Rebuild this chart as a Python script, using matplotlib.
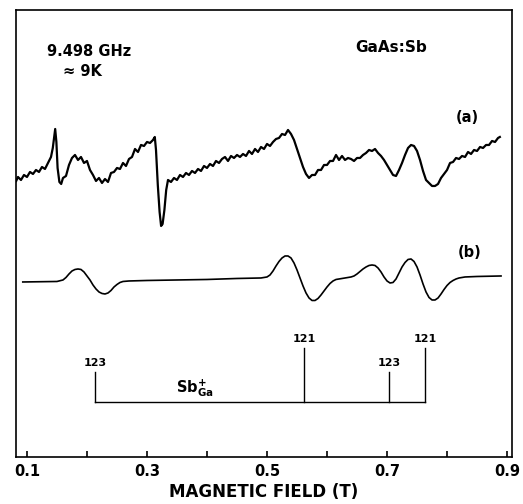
import numpy as np
import matplotlib
matplotlib.use("Agg")
import matplotlib.pyplot as plt

# trace (a): measured EPR derivative spectrum, field in T, signal in arb. units
field_a = [0.082, 0.085, 0.090, 0.095, 0.100, 0.105, 0.110, 0.115, 0.120, 0.125,
           0.130, 0.135, 0.140, 0.143, 0.147, 0.149, 0.151, 0.154, 0.157, 0.160,
           0.165, 0.170, 0.175, 0.180, 0.185, 0.190, 0.195, 0.200, 0.205, 0.210,
           0.215, 0.220, 0.225, 0.230, 0.235, 0.240, 0.245, 0.250, 0.255, 0.260,
           0.265, 0.270, 0.275, 0.280, 0.285, 0.290, 0.295, 0.300, 0.305, 0.310,
           0.313, 0.315, 0.318, 0.321, 0.3235, 0.326, 0.329, 0.332, 0.335, 0.340,
           0.345, 0.350, 0.355, 0.360, 0.365, 0.370, 0.375, 0.380, 0.385, 0.390,
           0.395, 0.400, 0.405, 0.410, 0.415, 0.420, 0.425, 0.430, 0.435, 0.440,
           0.445, 0.450, 0.455, 0.460, 0.465, 0.470, 0.475, 0.480, 0.485, 0.490,
           0.495, 0.500, 0.505, 0.510, 0.515, 0.520, 0.525, 0.530, 0.535, 0.540,
           0.545, 0.550, 0.555, 0.560, 0.565, 0.570, 0.575, 0.580, 0.585, 0.590,
           0.595, 0.600, 0.605, 0.610, 0.615, 0.620, 0.625, 0.630, 0.635, 0.640,
           0.645, 0.650, 0.655, 0.660, 0.665, 0.670, 0.675, 0.680, 0.685, 0.690,
           0.695, 0.700, 0.705, 0.710, 0.715, 0.720, 0.725, 0.730, 0.735, 0.740,
           0.745, 0.750, 0.755, 0.760, 0.765, 0.770, 0.775, 0.780, 0.785, 0.790,
           0.795, 0.800, 0.805, 0.810, 0.815, 0.820, 0.825, 0.830, 0.835, 0.840,
           0.845, 0.850, 0.855, 0.860, 0.865, 0.870, 0.875, 0.880, 0.885, 0.888]
signal_a = [276, 280, 277, 282, 280, 285, 283, 287, 285, 290,
            288, 294, 300, 309, 328, 315, 289, 275, 273, 279,
            281, 292, 299, 302, 297, 300, 294, 296, 287, 282,
            276, 279, 274, 278, 275, 284, 285, 289, 288, 294,
            291, 298, 300, 308, 305, 312, 311, 315, 314, 317,
            320, 307, 272, 245, 231, 233, 247, 267, 277, 275,
            279, 277, 282, 280, 284, 282, 286, 284, 288, 286,
            291, 289, 293, 291, 296, 294, 298, 300, 296, 301,
            299, 302, 300, 303, 301, 306, 303, 308, 305, 310,
            308, 313, 311, 315, 318, 319, 323, 322, 327, 323,
            317, 308, 299, 290, 283, 279, 282, 282, 287, 287,
            292, 292, 296, 296, 302, 297, 301, 297, 299, 298,
            296, 299, 299, 302, 304, 307, 306, 308, 304, 301,
            297, 292, 287, 282, 281, 287, 294, 302, 309, 312,
            311, 306, 297, 286, 277, 274, 271, 271, 273, 279,
            283, 287, 294, 295, 299, 298, 301, 300, 305, 303,
            307, 306, 310, 309, 312, 312, 316, 315, 319, 320]

# trace (b): simulated spectrum
field_b = [0.093, 0.150, 0.160, 0.165, 0.170, 0.175, 0.180, 0.185, 0.190, 0.195,
           0.200, 0.205, 0.210, 0.215, 0.220, 0.225, 0.230, 0.235, 0.240, 0.245,
           0.250, 0.255, 0.260, 0.270, 0.300, 0.400, 0.450, 0.490, 0.500, 0.505,
           0.510, 0.515, 0.520, 0.525, 0.530, 0.535, 0.540, 0.545, 0.550, 0.555,
           0.560, 0.565, 0.570, 0.575, 0.580, 0.585, 0.590, 0.595, 0.600, 0.605,
           0.610, 0.615, 0.620, 0.625, 0.630, 0.635, 0.640, 0.645, 0.650, 0.655,
           0.660, 0.665, 0.670, 0.675, 0.680, 0.685, 0.690, 0.695, 0.700, 0.705,
           0.710, 0.715, 0.720, 0.725, 0.730, 0.735, 0.740, 0.745, 0.750, 0.755,
           0.760, 0.765, 0.770, 0.775, 0.780, 0.785, 0.790, 0.795, 0.800, 0.805,
           0.810, 0.815, 0.820, 0.830, 0.850, 0.890]
signal_b = [175, 175.5, 177, 179.5, 183, 186, 187.5, 188, 187.5, 185,
            181, 177, 172, 168, 165, 163.5, 163, 164, 166.5, 170,
            172.5, 174.5, 175.5, 176, 176.5, 177.5, 178.5, 179, 180, 182,
            186, 191, 195.5, 199, 201, 201, 199, 194, 187, 179,
            171, 164, 159, 156.5, 156.5, 158.5, 162, 166, 170, 173.5,
            176, 177.5, 178, 178.5, 179, 179.5, 180, 181, 183, 185.5,
            188, 190, 191.5, 192, 191.5, 189, 185, 180, 176, 174,
            174.5, 178, 184, 190, 194.5, 197.5, 198, 195.5, 190, 182,
            173, 165, 159.5, 157, 157, 159, 163, 167.5, 171.5, 174.5,
            176.5, 178, 179, 180, 180.5, 181]

# Sb_Ga+ hyperfine stick diagram
stick_field = [0.213, 0.562, 0.703, 0.763]
stick_height = [30, 54, 30, 54]
stick_label = ["123", "121", "123", "121"]
stick_base = 55

fig = plt.figure(figsize=(5.23, 5.04), dpi=100)
ax = fig.add_axes([0.0306, 0.0933, 0.9484, 0.8869])

ax.plot(field_a, signal_a, color="black", lw=1.6)
ax.plot(field_b, signal_b, color="black", lw=1.2)

ax.plot([stick_field[0], stick_field[-1]], [stick_base, stick_base], color="black", lw=1.0)
for f, h, lab in zip(stick_field, stick_height, stick_label):
    ax.plot([f, f], [stick_base, stick_base + h], color="black", lw=1.0)
    ax.text(f, stick_base + h + 4, lab, ha="center", va="bottom",
            fontsize=8, fontweight="bold")
ax.text(0.38, 69, r"$\mathbf{Sb}^{\mathbf{+}}_{\mathbf{Ga}}$", ha="center", va="center",
        fontsize=10.5)

ax.text(0.133, 405, "9.498 GHz", ha="left", va="center", fontsize=10.5, fontweight="bold")
ax.text(0.160, 385, "≈ 9K", ha="left", va="center", fontsize=10.5, fontweight="bold")
ax.text(0.647, 409, "GaAs:Sb", ha="left", va="center", fontsize=11, fontweight="bold")
ax.text(0.833, 339, "(a)", ha="center", va="center", fontsize=10.5, fontweight="bold")
ax.text(0.838, 204, "(b)", ha="center", va="center", fontsize=10.5, fontweight="bold")

ax.set_xlim(0.0817, 0.9083)
ax.set_ylim(0, 447)
ticks = [0.1, 0.2, 0.3, 0.4, 0.5, 0.6, 0.7, 0.8, 0.9]
ax.set_xticks(ticks)
ax.set_xticklabels(["0.1", "", "0.3", "", "0.5", "", "0.7", "", "0.9"],
                   fontsize=10.5, fontweight="bold")
ax.set_yticks([])
ax.tick_params(axis="x", direction="in", length=4, width=1.2, pad=5)
for s in ax.spines.values():
    s.set_linewidth(1.2)
ax.set_xlabel("MAGNETIC FIELD (T)", fontsize=12, fontweight="bold", labelpad=3)

fig.savefig("out.png", dpi=100)
